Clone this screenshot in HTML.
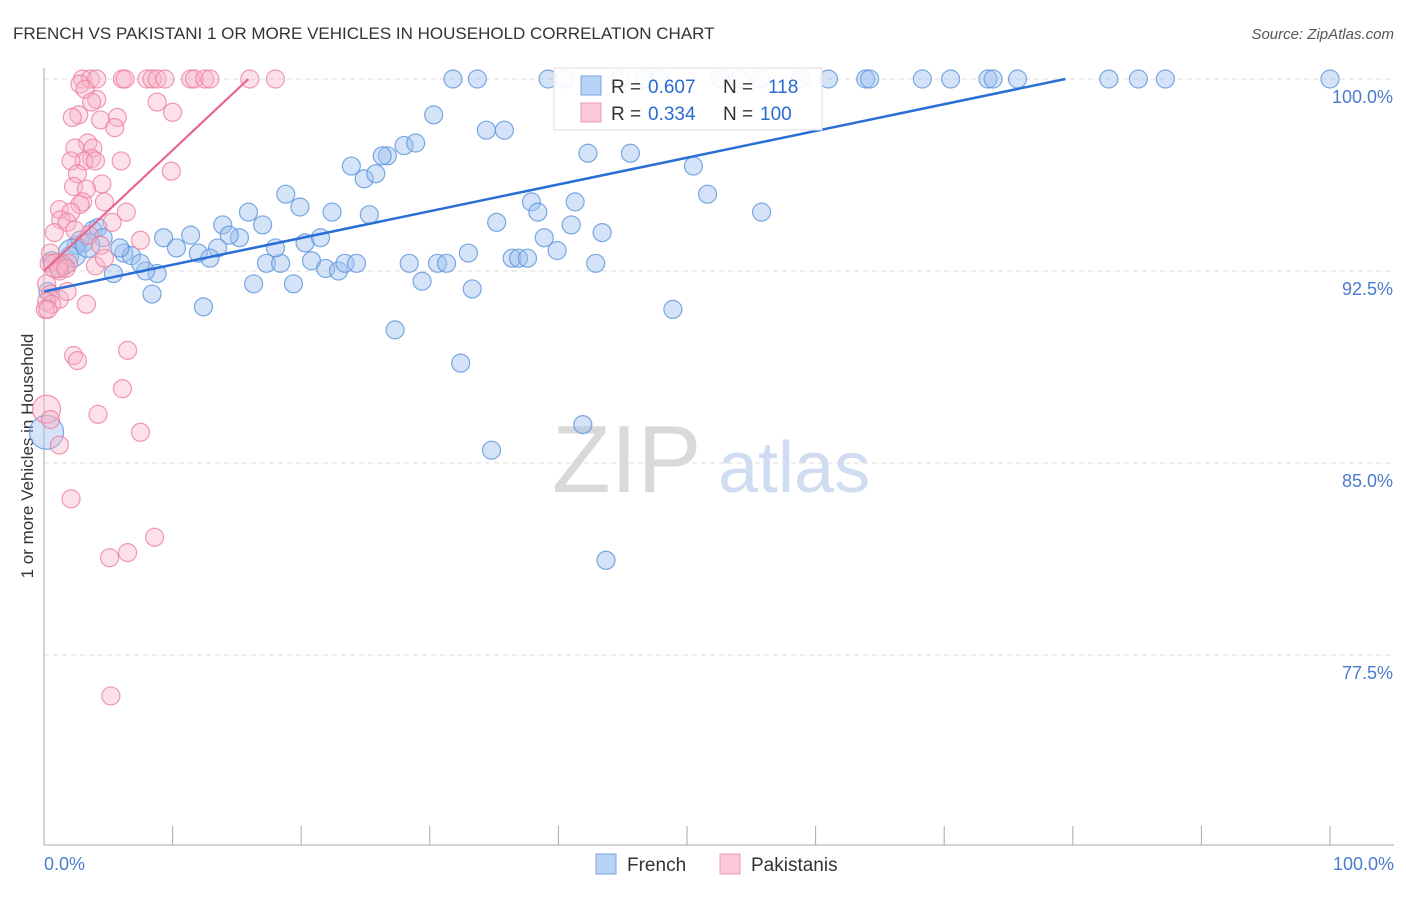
<!DOCTYPE html>
<html><head><meta charset="utf-8">
<style>
body{margin:0;background:#fff;font-family:"Liberation Sans",sans-serif;}
svg text{font-family:"Liberation Sans",sans-serif;}
</style></head>
<body>
<svg id="chart" width="1406" height="892" xmlns="http://www.w3.org/2000/svg">
<text x="13" y="39" font-size="17" fill="#333">FRENCH VS PAKISTANI 1 OR MORE VEHICLES IN HOUSEHOLD CORRELATION CHART</text>
<text x="1394" y="39" font-size="15" fill="#555" text-anchor="end" font-style="italic">Source: ZipAtlas.com</text>
<text transform="translate(33,456) rotate(-90)" font-size="17" fill="#333" text-anchor="middle">1 or more Vehicles in Household</text>
<g>
<text x="552" y="492" font-size="96" fill="#d9d9d9" font-family="Liberation Serif, serif">ZIP</text>
<text x="718" y="492" font-size="72" fill="#cfdcf2">atlas</text>
</g>
<g id="grid"></g>
<g id="axes"></g>
<g id="blue"></g>
<g id="pink"></g>
<g id="lines"></g>
<g>
<rect x="554" y="68" width="268" height="62" fill="#fff" fill-opacity="0.9" stroke="#ddd"/>
<rect x="581" y="76" width="20" height="19" fill="#b8d3f5" stroke="#7aa5e0"/>
<text x="611" y="93" font-size="19" fill="#333">R = </text>
<text x="648" y="93" font-size="19" fill="#2a6bd0">0.607</text>
<text x="723" y="93" font-size="19" fill="#333">N = </text>
<text x="768" y="93" font-size="19" fill="#2a6bd0">118</text>
<rect x="581" y="103" width="20" height="19" fill="#fac8d6" stroke="#f09ab3"/>
<text x="611" y="120" font-size="19" fill="#333">R = </text>
<text x="648" y="120" font-size="19" fill="#2a6bd0">0.334</text>
<text x="723" y="120" font-size="19" fill="#333">N = </text>
<text x="760" y="120" font-size="19" fill="#2a6bd0">100</text>
</g>
<g>
<rect x="596" y="854" width="20" height="20" fill="#b8d3f5" stroke="#7aa5e0"/>
<text x="627" y="871" font-size="19" fill="#333">French</text>
<rect x="720" y="854" width="20" height="20" fill="#fac8d6" stroke="#f09ab3"/>
<text x="751" y="871" font-size="19" fill="#333">Pakistanis</text>
</g>
</svg>
<script>
const yTicks=[100,92.5,85,77.5];
const yTickLabels=["100.0%","92.5%","85.0%","77.5%"];
const blueX=[31.8,33.7,39.2,40.5,44.8,46.7,47.9,52.6,54.1,55.7,58.8,61.0,63.9,64.2,68.3,70.5,73.4,73.8,75.7,82.8,85.1,87.2,100,
30.3,34.4,35.8,28.0,26.7,28.9,26.3,23.9,24.9,25.8,42.3,45.6,50.5,51.6,55.8,18.8,19.9,22.4,25.3,15.9,17.0,13.9,15.2,14.4,13.5,11.4,9.3,10.3,12.0,12.9,17.3,18.4,20.8,21.9,22.9,23.4,24.3,28.4,29.4,30.6,31.3,33.0,33.3,35.2,37.9,38.4,41.3,41.0,38.9,39.9,36.4,36.9,37.6,42.9,43.4,20.3,21.5,18.0,19.4,16.3,12.4,8.4,8.8,7.9,6.2,6.8,5.4,7.5,3.8,4.2,2.5,2.8,2.0,1.6,1.2,3.1,27.3,32.4,48.9,41.9,34.8,43.7,0.2,0.6,0.3,4.6,5.9,2.2,3.4];
const blueY=[100,100,100,100,100,100,100,100,100,100,100,100,100,100,100,100,100,100,100,100,100,100,100,
98.6,98.0,98.0,97.4,97.0,97.5,97.0,96.6,96.1,96.3,97.1,97.1,96.6,95.5,94.8,95.5,95.0,94.8,94.7,94.8,94.3,94.3,93.8,93.9,93.4,93.9,93.8,93.4,93.2,93.0,92.8,92.8,92.9,92.6,92.5,92.8,92.8,92.8,92.1,92.8,92.8,93.2,91.8,94.4,95.2,94.8,95.2,94.3,93.8,93.3,93.0,93.0,93.0,92.8,94.0,93.6,93.8,93.4,92.0,92.0,91.1,91.6,92.4,92.5,93.2,93.1,92.4,92.8,94.1,94.2,93.5,93.7,93.1,92.7,92.6,93.6,90.2,88.9,91.0,86.5,85.5,81.2,86.2,92.9,91.7,93.8,93.4,93.2,93.5];
const pinkX=[3.0,3.6,4.1,6.1,6.3,8.0,8.4,8.8,9.4,11.4,11.7,12.5,12.9,16.0,18.0,
2.8,3.2,4.1,3.7,2.7,2.2,5.7,4.4,5.5,8.8,10.0,3.4,3.8,2.4,3.7,3.1,4.0,2.1,2.6,2.3,4.5,3.3,6.0,9.9,3.0,2.8,4.7,1.2,2.1,1.3,1.8,6.4,2.4,0.8,3.5,5.3,7.5,4.4,0.5,0.4,1.4,1.9,1.1,4.0,4.7,0.2,0.5,1.2,1.8,3.3,0.2,0.6,2.3,2.6,6.5,6.1,4.2,0.2,0.5,7.5,1.2,2.1,5.1,6.5,8.6,5.2,1.2,0.9,1.7,0.1,0.3];
const pinkY=[100,100,100,100,100,100,100,100,100,100,100,100,100,100,100,
99.8,99.6,99.2,99.1,98.6,98.5,98.5,98.4,98.1,99.1,98.7,97.5,97.3,97.3,96.9,96.8,96.8,96.8,96.3,95.8,95.9,95.7,96.8,96.4,95.2,95.1,95.2,94.9,94.8,94.5,94.4,94.8,94.1,94.0,93.9,94.4,93.7,93.5,93.2,92.8,92.8,92.8,92.6,92.7,93.0,92.0,91.6,91.4,91.7,91.2,91.3,91.2,89.2,89.0,89.4,87.9,86.9,87.1,86.7,86.2,85.7,83.6,81.3,81.5,82.1,75.9,92.5,92.7,92.6,91.0,91.0];
const blueBig={105:17,110:14,111:12};
const pinkBig={72:14,82:12};
const blueTrend=[91.7,0.1045];
const pinkTrend=[92.5,0.472];
const NS="http://www.w3.org/2000/svg";
const X0=44,X1=1330,Y100=79,PXPER=192/7.5;
function sx(v){return X0+(X1-X0)*v/100;}
function sy(v){return Y100+(100-v)*PXPER;}
function mk(tag,attrs,parent){const e=document.createElementNS(NS,tag);for(const k in attrs)e.setAttribute(k,attrs[k]);parent.appendChild(e);return e;}
const grid=document.getElementById('grid');
yTicks.forEach((t,i)=>{
 const l=mk('line',{x1:X0,x2:1394,y1:sy(t),y2:sy(t),stroke:'#dcdcdc','stroke-dasharray':'5,4'},grid);
 
 
 const tx=mk('text',{x:1393,y:sy(t)+24,'font-size':18,fill:'#4a7bd0','text-anchor':'end'},grid);
 tx.textContent=yTickLabels[i];
 
 
});
const axes=document.getElementById('axes');
const ax1=mk('line',{x1:X0,x2:X0,y1:68,y2:845,stroke:'#aaa'},axes);


const ax2=mk('line',{x1:X0,x2:1394,y1:845,y2:845,stroke:'#aaa'},axes);


for(let i=1;i<=10;i++){
 const t=mk('line',{x1:sx(i*10),x2:sx(i*10),y1:826,y2:845,stroke:'#aaa'},axes);
 
 
}
const xl0=mk('text',{x:44,y:870,'font-size':18,fill:'#4a7bd0'},axes);xl0.textContent='0.0%';


const xl1=mk('text',{x:1394,y:870,'font-size':18,fill:'#4a7bd0','text-anchor':'end'},axes);xl1.textContent='100.0%';


const bg=document.getElementById('blue');
blueX.forEach((v,i)=>{
 const c=mk('circle',{cx:sx(v),cy:sy(blueY[i]),r:blueBig[i]||9,fill:'#9fc2ee','fill-opacity':0.45,stroke:'#5b93dd','stroke-opacity':0.8,'stroke-width':1.2},bg);
 
 
});
const pg=document.getElementById('pink');
pinkX.forEach((v,i)=>{
 const c=mk('circle',{cx:sx(v),cy:sy(pinkY[i]),r:pinkBig[i]||9,fill:'#f7b3c8','fill-opacity':0.4,stroke:'#ec7fa0','stroke-opacity':0.8,'stroke-width':1.2},pg);
 
 
});
const lg=document.getElementById('lines');
const bEnd=(100-blueTrend[0])/blueTrend[1];
const bl=mk('line',{x1:sx(0),y1:sy(blueTrend[0]),x2:sx(bEnd),y2:sy(100),stroke:'#2a6fd6','stroke-width':2.5},lg);


const pEnd=(100-pinkTrend[0])/pinkTrend[1];
const pl=mk('line',{x1:sx(0),y1:sy(pinkTrend[0]),x2:sx(pEnd),y2:sy(100),stroke:'#e8668e','stroke-width':2.2},lg);


</script>
</body></html>
